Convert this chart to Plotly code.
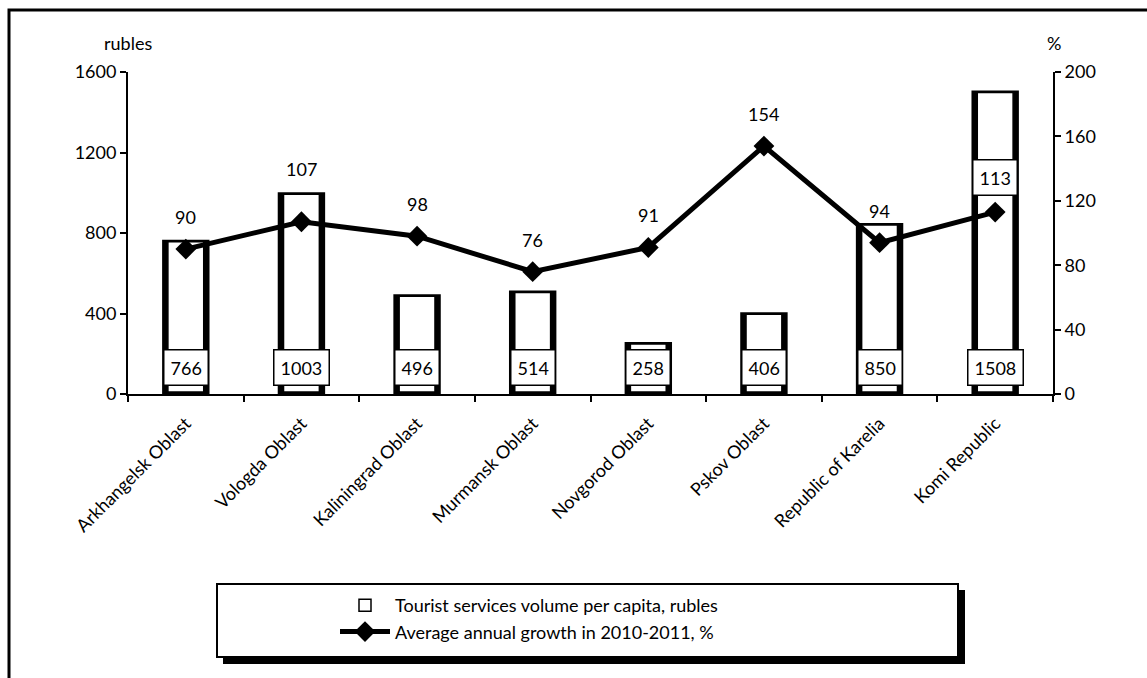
import numpy as np
import plotly.graph_objects as go

# Regions of the North-West federal district
regions = [
    "Arkhangelsk Oblast", "Vologda Oblast", "Kaliningrad Oblast", "Murmansk Oblast",
    "Novgorod Oblast", "Pskov Oblast", "Republic of Karelia", "Komi Republic",
]
# Tourist services volume per capita, rubles
volume = [766, 1003, 496, 514, 258, 406, 850, 1508]
# Average annual growth in 2010-2011, %
growth = [90, 107, 98, 76, 91, 154, 94, 113]

vol = np.array(volume, dtype=float)
FONT = "Lato"
FS = 18
W, H = 1147, 678
L, R, T, B = 128, 94, 72, 284
PW, PH = W - L - R, H - T - B
Y1MAX, Y2MAX = 1600, 200


def px_x(x):
    return (x - L) / PW


def px_y(y):
    return (H - B - y) / PH


fig = go.Figure()

# outer black body of each bar (gives the thick side walls)
fig.add_trace(go.Bar(
    x=regions, y=volume, width=0.41,
    marker=dict(color="black", line=dict(width=0)),
    showlegend=False, hoverinfo="skip",
))
# white interior of each bar
inset = 10
fig.add_trace(go.Bar(
    x=regions, y=vol - 2 * inset, base=[inset] * len(regions), width=0.31,
    marker=dict(color="white", line=dict(color="black", width=1.5)),
    name="Tourist services volume per capita, rubles",
    customdata=volume, hovertemplate="%{x}: %{customdata}<extra></extra>",
))
# growth line on the secondary axis
fig.add_trace(go.Scatter(
    x=regions, y=growth, yaxis="y2", mode="lines+markers",
    line=dict(color="black", width=5),
    marker=dict(symbol="diamond", size=16, color="black"),
    name="Average annual growth in 2010-2011, %",
))

annotations = []
# value boxes at the foot of the bars
for r, v in zip(regions, volume):
    annotations.append(dict(
        x=r, y=0, xref="x", yref="y", text=str(v), showarrow=False,
        yanchor="bottom", yshift=8, bgcolor="white", bordercolor="black",
        borderwidth=1.5, borderpad=6, font=dict(family=FONT, size=FS, color="black"),
    ))
# growth labels above the markers; lifted above a bar top when they would sit on it
for i, (r, g, v) in enumerate(zip(regions, growth, volume)):
    boxed = i == len(regions) - 1
    shift = 35 if boxed else 32
    marker_px = g / Y2MAX * PH
    bar_px = v / Y1MAX * PH
    gap = bar_px - marker_px
    if not boxed and abs(gap - shift) < 11:
        shift = gap + 23
    annotations.append(dict(
        x=r, y=g, xref="x", yref="y2", text=str(g), showarrow=False,
        yanchor="middle", yshift=shift,
        bgcolor="white" if boxed else "rgba(0,0,0,0)",
        bordercolor="black" if boxed else "rgba(0,0,0,0)",
        borderwidth=1.5 if boxed else 0, borderpad=6 if boxed else 0,
        font=dict(family=FONT, size=FS, color="black"),
    ))
# axis unit captions
annotations.append(dict(x=0, y=px_y(43), xref="paper", yref="paper", text="rubles",
                        showarrow=False, xanchor="center", yanchor="middle",
                        font=dict(family=FONT, size=FS, color="black")))
annotations.append(dict(x=px_x(1054), y=px_y(43), xref="paper", yref="paper", text="%",
                        showarrow=False, xanchor="center", yanchor="middle",
                        font=dict(family=FONT, size=FS, color="black")))

shapes = [
    # outer frame
    dict(type="rect", xref="paper", yref="paper", x0=px_x(9), x1=px_x(1300),
         y0=px_y(900), y1=px_y(10), line=dict(color="black", width=3),
         fillcolor="rgba(0,0,0,0)", layer="below"),
    # legend box shadow
    dict(type="rect", xref="paper", yref="paper", x0=px_x(223), x1=px_x(965),
         y0=px_y(664), y1=px_y(590), line=dict(width=0), fillcolor="black", layer="below"),
    # legend box
    dict(type="rect", xref="paper", yref="paper", x0=px_x(217), x1=px_x(958),
         y0=px_y(657), y1=px_y(584), line=dict(color="black", width=2),
         fillcolor="white", layer="below"),
]

axis_common = dict(
    showline=True, linecolor="black", linewidth=2, ticks="outside",
    ticklen=6, tickwidth=2, tickcolor="black", showgrid=False, zeroline=False,
    tickfont=dict(family=FONT, size=FS, color="black"),
)

fig.update_layout(
    width=W, height=H,
    margin=dict(l=L, r=R, t=T, b=B),
    paper_bgcolor="white", plot_bgcolor="rgba(0,0,0,0)",
    barmode="overlay", bargap=0.5,
    font=dict(family=FONT, size=FS, color="black"),
    xaxis=dict(**axis_common, tickson="boundaries", tickangle=-45, ticklabelstandoff=10),
    yaxis=dict(**axis_common, range=[0, Y1MAX], dtick=400),
    yaxis2=dict(**axis_common, range=[0, Y2MAX], dtick=40, overlaying="y", side="right"),
    legend=dict(x=px_x(335), y=px_y(587), xanchor="left", yanchor="top",
                bgcolor="rgba(0,0,0,0)", borderwidth=0, traceorder="normal",
                itemwidth=50, font=dict(family=FONT, size=FS, color="black")),
    annotations=annotations,
    shapes=shapes,
)

fig.write_html("out.html")
